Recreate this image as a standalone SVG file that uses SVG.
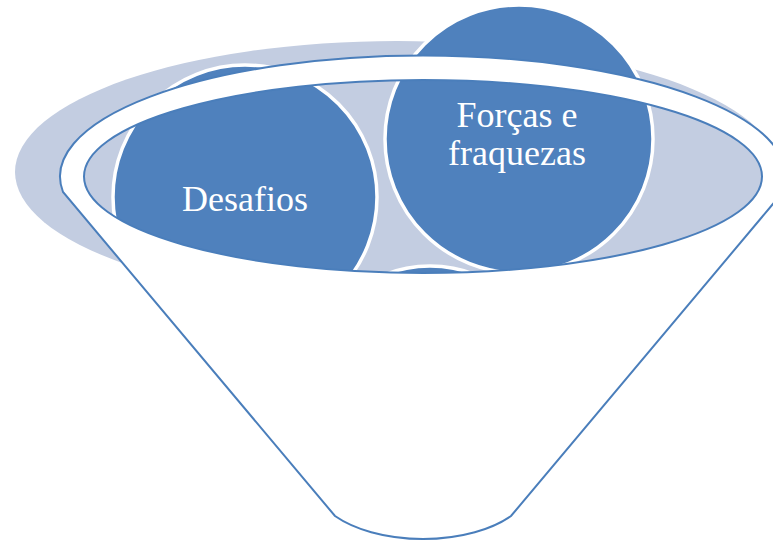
<svg xmlns="http://www.w3.org/2000/svg" width="773" height="540" viewBox="0 0 773 540">
  <style>
    .shadow { fill: #C3CDE1; }
    .opening { fill: #C3CDE1; }
    .ball { fill: #4F81BD; stroke: #FFFFFF; stroke-width: 3.5; }
    .funnel { fill: #FFFFFF; fill-rule: evenodd; stroke: #4A7EBB; stroke-width: 2; }
    .label { font-family: "Liberation Serif", "DejaVu Serif", serif; font-size: 36px; fill: #FFFFFF; text-anchor: middle; }
  </style>
  <rect width="773" height="540" fill="#FFFFFF"/>
  <ellipse class="shadow" cx="397" cy="172" rx="382" ry="131"/>
  <ellipse class="opening" cx="423" cy="176.5" rx="339" ry="96.5"/>
  <g id="node-bottom">
    <circle class="ball" cx="430" cy="391" r="125"/>
  </g>
  <g id="node-desafios">
    <circle class="ball" cx="245" cy="197" r="132"/>
    <text class="label" x="245" y="211">Desafios</text>
  </g>
  <g id="node-forcas">
    <circle class="ball" cx="519" cy="139" r="134"/>
    <text class="label" x="517" y="127">Forças e</text>
    <text class="label" x="517" y="165">fraquezas</text>
  </g>
  <g id="funnel">
    <path class="funnel" d="M 63 192 A 363 121 0 1 1 783 192 L 511 516 A 110 57.5 0 0 1 335 516 Z M 84 176.5 A 339 96.5 0 1 0 762 176.5 A 339 96.5 0 1 0 84 176.5 Z"/>
  </g>
  <g id="connectors"></g>
</svg>
